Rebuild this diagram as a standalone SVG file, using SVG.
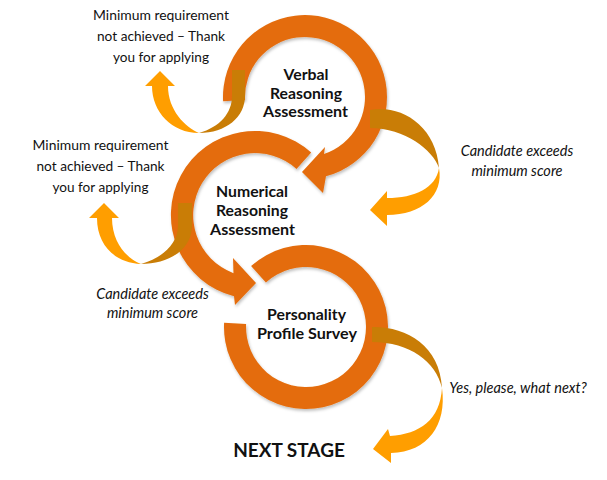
<svg xmlns="http://www.w3.org/2000/svg" width="607" height="480" viewBox="0 0 607 480">
<defs>
<style>
.ring{fill:#E46C0A;filter:url(#sh);}
.dark{fill:#C97D06;}
.light{fill:#FF9E00;}
.lbl{font-family:Lato,"Liberation Sans",sans-serif;font-size:15.5px;font-weight:bold;fill:#111;text-anchor:middle;}
.note{font-family:Lato,"Liberation Sans",sans-serif;font-size:14px;fill:#111;text-anchor:middle;}
.it{font-family:Lato,"Liberation Sans",sans-serif;font-size:14.5px;font-style:italic;fill:#111;text-anchor:middle;}
.big{font-family:Lato,"Liberation Sans",sans-serif;font-size:19px;font-weight:bold;fill:#111;text-anchor:middle;}
</style>
<filter id="sh" x="-10%" y="-10%" width="125%" height="125%">
<feDropShadow dx="1" dy="2" stdDeviation="1.5" flood-color="#000" flood-opacity="0.25"/>
</filter>
</defs>
<rect width="607" height="480" fill="#fff"/>

<g id="node-verbal">
<path class="ring" d="M223.1,101.3 A82,82 0 1 1 326,176.3 L323,193 L302,172 L325,147 L324,153.9 A60,60 0 1 0 245.1,100.1 Z"/>
<text class="lbl" x="306" y="80" textLength="45" lengthAdjust="spacingAndGlyphs">Verbal</text>
<text class="lbl" x="306" y="98.5" textLength="72" lengthAdjust="spacingAndGlyphs">Reasoning</text>
<text class="lbl" x="305.5" y="117" textLength="85" lengthAdjust="spacingAndGlyphs">Assessment</text>
</g>

<g id="node-numerical">
<path class="ring" d="M311.2,152.6 A84,84 0 1 0 234,296.3 L235,305 L256,283 L233,258 L233.5,273.2 A62,62 0 1 1 296.5,168.9 Z"/>
<text class="lbl" x="252" y="196.5" textLength="72" lengthAdjust="spacingAndGlyphs">Numerical</text>
<text class="lbl" x="252" y="215.5" textLength="72" lengthAdjust="spacingAndGlyphs">Reasoning</text>
<text class="lbl" x="252.5" y="235" textLength="85" lengthAdjust="spacingAndGlyphs">Assessment</text>
</g>

<g id="node-personality">
<path class="ring" d="M251.1,266.1 A82,82 0 1 1 224.1,322.7 L246.1,323.9 A60,60 0 1 0 265.9,282.4 Z"/>
<text class="lbl" x="306.5" y="320" textLength="79" lengthAdjust="spacingAndGlyphs">Personality</text>
<text class="lbl" x="307" y="338.5" textLength="100" lengthAdjust="spacingAndGlyphs">Profile Survey</text>
</g>

<g id="connectors">
<g id="arrow-verbal-fail">
<path class="dark" d="M199,133 C226,133 245,117 245,96 L245,70 L232,70 L232,96 C232,113 220,127 199,133 Z"/>
<path class="light" d="M145,86 L160,71 L175,86 L168,86 C168,110 185,127 199,133 C172,133 152,112 152,86 Z"/>
</g>
<g id="arrow-verbal-pass">
<path class="dark" d="M370,110 C400,104 436,125 439,168 C433,150 405,128 370,128 Z"/>
<path class="light" d="M439,168 C444,195 422,215 387,215 L387,226 L370,210 L387,191 L387,198 C415,198 436,188 439,168 Z"/>
</g>
<g id="arrow-numerical-fail">
<path class="dark" d="M141,264 C168,264 192,250 192,226 L192,203 L178,203 L178,226 C178,243 163,258 141,264 Z"/>
<path class="light" d="M89,218 L104,203 L119,218 L112,218 C112,242 126,258 141,264 C115,263 97,245 97,218 Z"/>
</g>
<g id="arrow-personality-next">
<path class="dark" d="M372,327 C405,326 440,345 442,388 C436,362 410,342 372,342 Z"/>
<path class="light" d="M442,388 C447,425 428,452 391,453 L391,463 L373,449 L388,429 L390,436 C420,434 440,420 442,388 Z"/>
</g>
</g>

<g id="label-fail-1">
<text class="note" x="161" y="20" textLength="136" lengthAdjust="spacingAndGlyphs">Minimum requirement</text>
<text class="note" x="161" y="41" textLength="128" lengthAdjust="spacingAndGlyphs">not achieved – Thank</text>
<text class="note" x="161" y="62" textLength="96" lengthAdjust="spacingAndGlyphs">you for applying</text>
</g>
<g id="label-fail-2">
<text class="note" x="100.5" y="150" textLength="136" lengthAdjust="spacingAndGlyphs">Minimum requirement</text>
<text class="note" x="100.5" y="171" textLength="128" lengthAdjust="spacingAndGlyphs">not achieved – Thank</text>
<text class="note" x="100.5" y="192" textLength="96" lengthAdjust="spacingAndGlyphs">you for applying</text>
</g>
<g id="label-pass-1">
<text class="it" x="517" y="156">Candidate exceeds</text>
<text class="it" x="517" y="175.5">minimum score</text>
</g>
<g id="label-pass-2">
<text class="it" x="152.5" y="298.5">Candidate exceeds</text>
<text class="it" x="152.5" y="318">minimum score</text>
</g>
<g id="label-next">
<text class="it" x="518" y="392.5">Yes, please, what next?</text>
</g>
<g id="node-next-stage">
<text class="big" x="289" y="457">NEXT STAGE</text>
</g>
</svg>
